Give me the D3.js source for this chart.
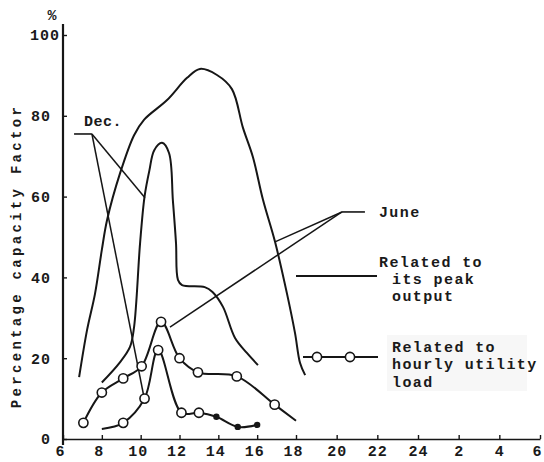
<!DOCTYPE html>
<html>
<head>
<meta charset="utf-8">
<script src="https://cdn.jsdelivr.net/npm/d3@7"></script>
<style>
  body { margin: 0; background: #fff; }
  #chart text { font-family: "Liberation Mono", "DejaVu Sans Mono", monospace; font-weight: bold; fill: #1a1a1a; }
</style>
</head>
<body>
<div id="chart"></div>
<script>

// hours of the day run on past midnight as 26, 28, 30 (= 2, 4, 6)
var xTicks = [6, 8, 10, 12, 14, 16, 18, 20, 22, 24, 26, 28, 30];
var xTickLabels = ["6", "8", "10", "12", "14", "16", "18", "20", "22", "24", "2", "4", "6"];
var yTicks = [0, 20, 40, 60, 80, 100];

// related to its peak output  [hour, %]
var junePeak = [[6.83, 15.3], [7.24, 27], [7.65, 36], [8.0, 46.8], [8.27, 54.2], [8.94, 65.8], [9.66, 75.2],
  [10.17, 79], [11.36, 83.9], [12.39, 89.4], [13.05, 91.6], [13.93, 90.1], [14.7, 86.6], [15.27, 77],
  [15.78, 69.8], [16.3, 59.2], [16.92, 48.8], [17.53, 36.1], [17.95, 26.2], [18.2, 18.8], [18.45, 15.8]];
var decPeak = [[8.0, 14], [8.9, 18.8], [9.45, 22.8], [9.66, 27.7], [9.97, 48.5], [10.2, 60], [10.45, 66.5],
  [10.7, 71.5], [11.1, 73.3], [11.46, 70.8], [11.66, 59], [11.82, 48.5], [11.92, 39.4], [12.13, 38.1],
  [13.3, 37.6], [13.7, 36.4], [14.24, 32.7], [14.86, 25], [15.47, 21.3], [16.04, 18.3]];

// related to hourly utility load
var juneLoad = [[7.05, 4], [8, 11.5], [9.1, 15], [10.05, 18], [11.05, 29], [12, 20], [12.95, 16.5],
  [14.95, 15.5], [16.9, 8.5], [18, 4.5]];
var decLoad = [[8, 2.5], [9.1, 4], [10.2, 10], [10.9, 22], [12.1, 6.5], [13, 6.5], [13.9, 5.5], [15, 3], [16, 3.5]];
var juneLoadRings = [0, 1, 2, 3, 4, 5, 6, 7, 8];   // indexes drawn as open rings
var decLoadRings = [1, 2, 3, 4, 5];
var decLoadDots = [6, 7, 8];                         // indexes drawn as solid dots

// month labels and their leader lines, in chart units
var decStub = [[6.57, 75.5], [7.49, 75.5]];
var decTargets = [[10.22, 59.7], [10.17, 10.4]];
var juneStub = [[20.26, 56.2], [21.39, 56.2]];
var juneTargets = [[16.92, 48.8], [11.51, 27.7]];

var width = 544, height = 462;
var ink = "#161616";

var svg = d3.select("#chart").append("svg")
  .attr("width", width)
  .attr("height", height);

// the typed axis is a little tighter before 18h than after
var x = d3.scaleLinear().domain([6, 18, 30]).range([63, 296, 540]);
var y = d3.scaleLinear().domain([0, 100]).range([439, 35]);

// axes
var xAxis = svg.append("g")
  .attr("transform", "translate(0," + y(0) + ")")
  .call(d3.axisBottom(x).tickValues(xTicks)
    .tickFormat(function (d, i) { return xTickLabels[i]; })
    .tickSizeInner(-4).tickSizeOuter(0).tickPadding(6));
xAxis.select(".domain").attr("stroke", ink).attr("stroke-width", 1.6);
xAxis.selectAll(".tick line").attr("stroke", ink).attr("stroke-width", 1.4);
xAxis.selectAll(".tick text").attr("font-size", 15).attr("letter-spacing", 1)
  .attr("dx", function (d) { return d < 20 || d === 30 ? -3 : 0; });

var yAxis = svg.append("g")
  .attr("transform", "translate(" + x(6) + ",0)")
  .call(d3.axisLeft(y).tickValues(yTicks).tickSizeInner(-4).tickSizeOuter(0).tickPadding(12));
yAxis.select(".domain").remove();
yAxis.selectAll(".tick line").attr("stroke", ink).attr("stroke-width", 1.4);
yAxis.selectAll(".tick text").attr("font-size", 15).attr("letter-spacing", 1)
  .attr("dx", function (d) { return d === 100 ? 9 : 0; });

svg.append("line")
  .attr("x1", x(6)).attr("x2", x(6))
  .attr("y1", y(102.7)).attr("y2", y(-1.5))
  .attr("stroke", ink).attr("stroke-width", 2.2);

svg.append("text")
  .attr("x", 52).attr("y", 20)
  .attr("text-anchor", "middle")
  .attr("font-size", 15)
  .text("%");

svg.append("text")
  .attr("transform", "translate(21," + ((y(0) + y(100)) / 2 + 19) + ") rotate(-90)")
  .attr("text-anchor", "middle")
  .attr("font-size", 14)
  .attr("letter-spacing", 3.3)
  .text("Percentage capacity Factor");

// curves
var line = d3.line()
  .x(function (d) { return x(d[0]); })
  .y(function (d) { return y(d[1]); })
  .curve(d3.curveCatmullRom.alpha(0.5));

[junePeak, decPeak, juneLoad, decLoad].forEach(function (s) {
  svg.append("path")
    .attr("d", line(s))
    .attr("fill", "none")
    .attr("stroke", ink)
    .attr("stroke-width", 2);
});

// leader lines
function leader(stub, targets) {
  svg.append("path")
    .attr("d", d3.line().x(function (d) { return x(d[0]); }).y(function (d) { return y(d[1]); })(stub))
    .attr("fill", "none").attr("stroke", ink).attr("stroke-width", 1.6);
  targets.forEach(function (t) {
    svg.append("line")
      .attr("x1", x(stub[0][0])).attr("y1", y(stub[0][1]))
      .attr("x2", x(t[0])).attr("y2", y(t[1]))
      .attr("stroke", ink).attr("stroke-width", 1.5);
  });
}
// Dec. leaders start at the right end of the stub
leader([decStub[1], decStub[0]], decTargets);
leader(juneStub, juneTargets);

// markers
function rings(s, idx) {
  svg.selectAll(null)
    .data(idx.map(function (i) { return s[i]; }))
    .enter().append("circle")
    .attr("cx", function (d) { return x(d[0]); })
    .attr("cy", function (d) { return y(d[1]); })
    .attr("r", 4.6)
    .attr("fill", "#fff")
    .attr("stroke", ink)
    .attr("stroke-width", 1.6);
}
rings(juneLoad, juneLoadRings);
rings(decLoad, decLoadRings);

svg.selectAll(null)
  .data(decLoadDots.map(function (i) { return decLoad[i]; }))
  .enter().append("circle")
  .attr("cx", function (d) { return x(d[0]); })
  .attr("cy", function (d) { return y(d[1]); })
  .attr("r", 3.2)
  .attr("fill", ink);

// labels
svg.append("text")
  .attr("x", x(decStub[0][0]) + 10).attr("y", y(decStub[0][1]) - 8)
  .attr("font-size", 15).attr("letter-spacing", 0.5)
  .text("Dec.");

svg.append("text")
  .attr("x", x(juneStub[1][0]) + 14).attr("y", y(juneStub[1][1]) + 5)
  .attr("font-size", 15).attr("letter-spacing", 1.4)
  .text("June");

// key
var key1 = svg.append("g").attr("transform", "translate(296,276)");
key1.append("line").attr("x1", 0).attr("x2", 81).attr("stroke", ink).attr("stroke-width", 1.8);
key1.append("text").attr("x", 83).attr("y", -9).attr("font-size", 15).attr("letter-spacing", 1.4).text("Related to");
key1.append("text").attr("x", 96).attr("y", 8).attr("font-size", 15).attr("letter-spacing", 1.4).text("its peak");
key1.append("text").attr("x", 96).attr("y", 25).attr("font-size", 15).attr("letter-spacing", 1.4).text("output");

var key2 = svg.append("g").attr("transform", "translate(303,357)");
key2.append("rect").attr("x", 84).attr("y", -22).attr("width", 140).attr("height", 56).attr("fill", "#f7f7f7");
key2.append("line").attr("x1", 0).attr("x2", 75).attr("stroke", ink).attr("stroke-width", 1.8);
key2.selectAll("circle").data([14, 47]).enter().append("circle")
  .attr("cx", function (d) { return d; }).attr("r", 4.6)
  .attr("fill", "#fff").attr("stroke", ink).attr("stroke-width", 1.6);
key2.append("text").attr("x", 89).attr("y", -5).attr("font-size", 15).attr("letter-spacing", 1.4).text("Related to");
key2.append("text").attr("x", 89).attr("y", 12).attr("font-size", 15).attr("letter-spacing", 1.4).text("hourly utility");
key2.append("text").attr("x", 89).attr("y", 30).attr("font-size", 15).attr("letter-spacing", 1.4).text("load");

</script>
</body>
</html>
